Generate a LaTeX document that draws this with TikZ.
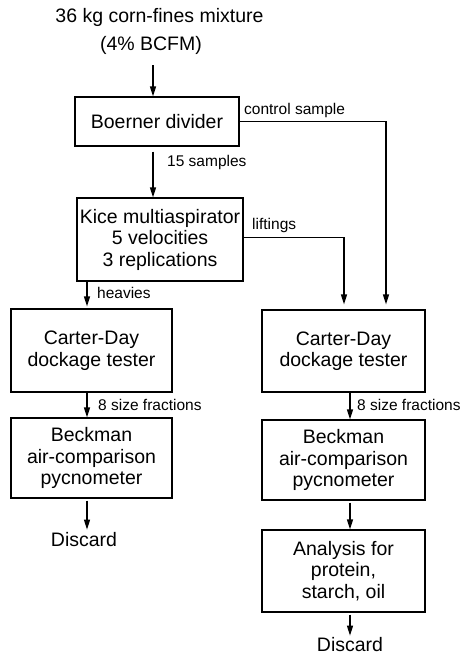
\documentclass[tikz,border=0pt]{standalone}
\usepackage{fontspec}
\setmainfont{Liberation Sans}
\usetikzlibrary{arrows.meta}
\newcommand\mainfnt{\fontsize{19.5}{21.5}\selectfont}
\newcommand\smallfnt{\fontsize{15.5}{17}\selectfont}
\begin{document}
\begin{tikzpicture}[x=1pt,y=-1pt,
  box/.style={draw,line width=1.2pt,inner sep=0pt,align=center,font=\mainfnt},
  txt/.style={inner sep=0pt,align=center,font=\mainfnt},
  lbl/.style={inner sep=0pt,anchor=west,font=\smallfnt},
  arr/.style={line width=1.2pt,-{Triangle[length=10pt,width=6pt]}},
  ln/.style={line width=1.2pt}]
\useasboundingbox (0,0) rectangle (463,657);
\coordinate (lx) at (87,0);
\coordinate (rx) at (350,0);
\coordinate (tx) at (153,0);
\node[txt] (t1) at (159.5,17) {36 kg corn-fines mixture};
\node[txt] (t2) at (151,45) {(4\% BCFM)};
\node[box,minimum width=164pt,minimum height=49pt] (boer) at (157,121.5) {Boerner divider};
\node[box,minimum width=166pt,minimum height=83pt] (kice) at (160,239.5) {Kice multiaspirator\\5 velocities\\3 replications};
\node[box,minimum width=161pt,minimum height=83pt] (lc) at (91.5,350.5) {Carter-Day\\dockage tester};
\node[box,minimum width=163pt,minimum height=82pt] (rc) at (343.5,351) {Carter-Day\\dockage tester};
\node[box,minimum width=161pt,minimum height=80pt] (lb) at (91.5,458) {Beckman\\air-comparison\\pycnometer};
\node[box,minimum width=163pt,minimum height=80pt] (rb) at (343.5,460) {Beckman\\air-comparison\\pycnometer};
\node[box,minimum width=163pt,minimum height=82pt] (an) at (343.5,571) {Analysis for\\protein,\\starch, oil};
\node[txt] (d1) at (84,540) {Discard};
\node[txt] (d2) at (350,645) {Discard};
% connectors
\draw[arr] ([yshift=-11pt]t2.south -| tx) -- (boer.north -| tx);
\draw[arr] ([yshift=-5pt]boer.south -| tx) -- (kice.north -| tx);
\draw[arr] (boer.east) -| ([xshift=42.5pt,yshift=5pt]rc.north);
\draw[arr] ([yshift=2pt]kice.east) -| ([xshift=0.5pt,yshift=5pt]rc.north);
\draw[arr] (kice.south -| lx) -- ([yshift=2pt]lc.north -| lx);
\draw[arr] (lc.south -| lx) -- (lb.north -| lx);
\draw[arr] (rc.south -| rx) -- (rb.north -| rx);
\draw[arr] ([yshift=-2pt]lb.south -| lx) -- ([yshift=3pt]d1.north -| lx);
\draw[arr] ([yshift=-2pt]rb.south -| rx) -- (an.north -| rx);
\draw[arr] ([yshift=-2pt]an.south -| rx) -- ([yshift=2pt]d2.north -| rx);
% labels
\node[lbl] (lcs) at (244,110) {control sample};
\node[lbl] (l15) at (167,162) {15 samples};
\node[lbl] (llf) at (252,225) {liftings};
\node[lbl] (lhv) at (97,293) {heavies};
\node[lbl] (l8a) at (98,405) {8 size fractions};
\node[lbl] (l8b) at (357,405) {8 size fractions};
\end{tikzpicture}
\end{document}
